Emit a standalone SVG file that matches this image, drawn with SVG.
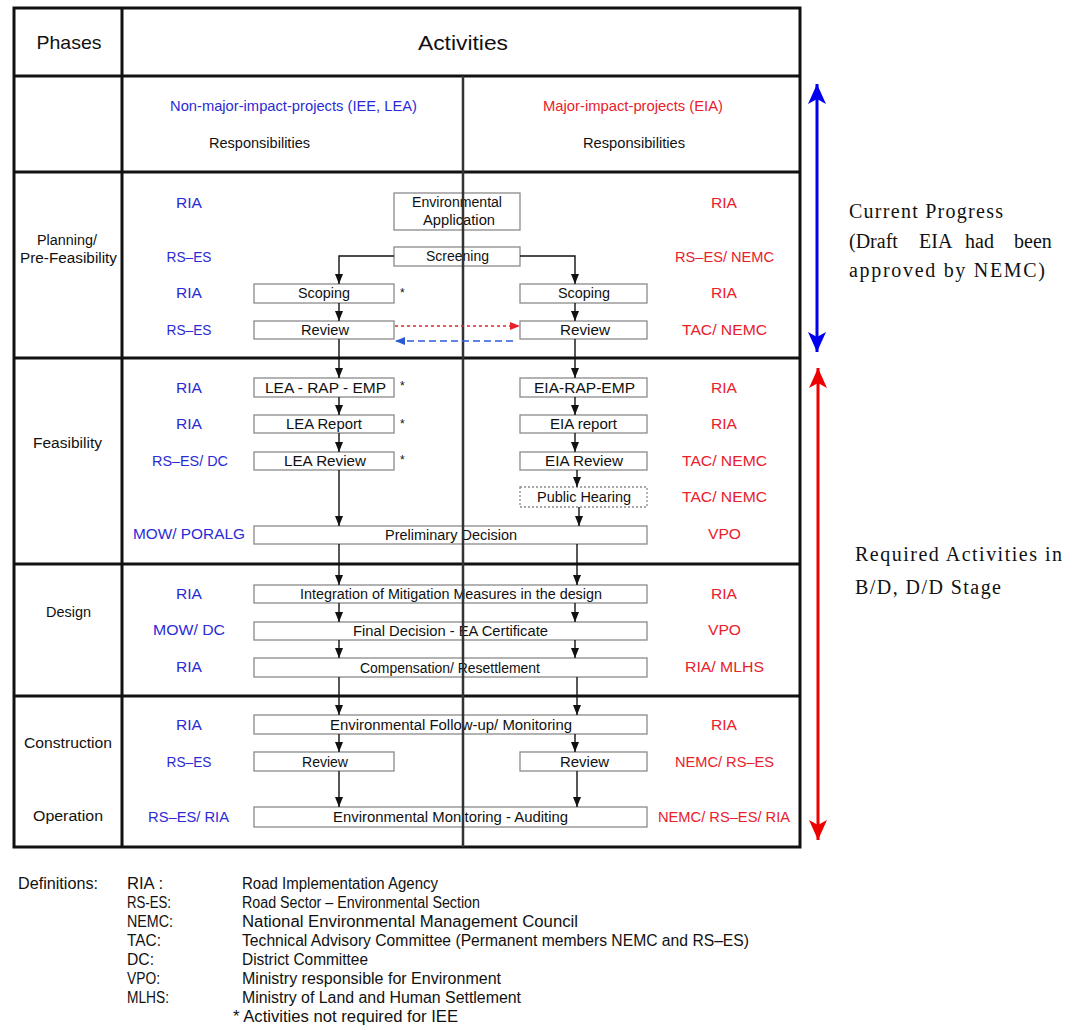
<svg xmlns="http://www.w3.org/2000/svg" width="1073" height="1030" viewBox="0 0 1073 1030">
<style>
.tbl{stroke:#111;stroke-width:3;fill:none}
.div{stroke:#333;stroke-width:2.5;fill:none}
.box{fill:none;stroke:#8a8a8a;stroke-width:1.3}
.dot{stroke-dasharray:2,2}
.t{font-family:"Liberation Sans",Arial,sans-serif;font-size:15.5px;fill:#111;text-anchor:middle}
.l{text-anchor:start}
.d{font-size:16px}
.b{fill:#2b2bd4}
.r{fill:#e8212b}
.s{font-family:"Liberation Serif","Times New Roman",serif;font-size:20px;fill:#111}
.conn{stroke:#111;stroke-width:1.4;fill:none;marker-end:url(#ah)}
</style>
<defs>
<marker id="ah" markerUnits="userSpaceOnUse" markerWidth="10" markerHeight="8" refX="10" refY="4" orient="auto"><path d="M0,0 L10,4 L0,8 z" fill="#111"/></marker>
<marker id="ahr" markerUnits="userSpaceOnUse" markerWidth="10" markerHeight="8" refX="10" refY="4" orient="auto"><path d="M0,0 L10,4 L0,8 z" fill="#e8212b"/></marker>
<marker id="ahb" markerUnits="userSpaceOnUse" markerWidth="10" markerHeight="8" refX="10" refY="4" orient="auto"><path d="M0,0 L10,4 L0,8 z" fill="#2b5bd4"/></marker>
<marker id="bigB" markerUnits="userSpaceOnUse" markerWidth="20" markerHeight="18" refX="20" refY="9" orient="auto-start-reverse"><path d="M0,0 L20,9 L0,18 L5,9 z" fill="#0000ee"/></marker>
<marker id="bigR" markerUnits="userSpaceOnUse" markerWidth="20" markerHeight="18" refX="20" refY="9" orient="auto-start-reverse"><path d="M0,0 L20,9 L0,18 L5,9 z" fill="#ee0000"/></marker>
</defs>

<g id="table">
<rect class="tbl" x="14" y="8" width="786" height="839"/>
<line class="tbl" x1="14" y1="76" x2="800" y2="76"/>
<line class="tbl" x1="14" y1="172" x2="800" y2="172"/>
<line class="tbl" x1="14" y1="358" x2="800" y2="358"/>
<line class="tbl" x1="14" y1="564" x2="800" y2="564"/>
<line class="tbl" x1="14" y1="696" x2="800" y2="696"/>
<line class="tbl" x1="122" y1="8" x2="122" y2="847"/>
<text class="t" x="69" y="49" style="font-size:19px" textLength="65" lengthAdjust="spacingAndGlyphs">Phases</text>
<text class="t" x="463" y="50" style="font-size:20px" textLength="90" lengthAdjust="spacingAndGlyphs">Activities</text>
<text class="t b" x="293.5" y="111" style="font-size:15px" textLength="247" lengthAdjust="spacingAndGlyphs">Non-major-impact-projects (IEE, LEA)</text>
<text class="t r" x="633" y="111" style="font-size:15px" textLength="180" lengthAdjust="spacingAndGlyphs">Major-impact-projects (EIA)</text>
<text class="t" x="259.5" y="148" style="font-size:14.5px" textLength="101" lengthAdjust="spacingAndGlyphs">Responsibilities</text>
<text class="t" x="634" y="148" style="font-size:14.5px" textLength="102" lengthAdjust="spacingAndGlyphs">Responsibilities</text>
</g>

<g id="phases">
<text class="t" x="67" y="245" textLength="60" lengthAdjust="spacingAndGlyphs">Planning/</text>
<text class="t" x="68.5" y="263" textLength="97" lengthAdjust="spacingAndGlyphs">Pre-Feasibility</text>
<text class="t" x="67.5" y="448" textLength="69" lengthAdjust="spacingAndGlyphs">Feasibility</text>
<text class="t" x="68.5" y="617" textLength="45" lengthAdjust="spacingAndGlyphs">Design</text>
<text class="t" x="68" y="748" textLength="88" lengthAdjust="spacingAndGlyphs">Construction</text>
<text class="t" x="68" y="821" textLength="70" lengthAdjust="spacingAndGlyphs">Operation</text>
</g>

<g id="resp-left">
<text class="t b" x="189" y="208" textLength="26" lengthAdjust="spacingAndGlyphs">RIA</text>
<text class="t b" x="189" y="262" textLength="45" lengthAdjust="spacingAndGlyphs">RS–ES</text>
<text class="t b" x="189" y="298" textLength="26" lengthAdjust="spacingAndGlyphs">RIA</text>
<text class="t b" x="189" y="335" textLength="45" lengthAdjust="spacingAndGlyphs">RS–ES</text>
<text class="t b" x="189" y="393" textLength="26" lengthAdjust="spacingAndGlyphs">RIA</text>
<text class="t b" x="189" y="429" textLength="26" lengthAdjust="spacingAndGlyphs">RIA</text>
<text class="t b" x="190" y="466" textLength="76" lengthAdjust="spacingAndGlyphs">RS–ES/ DC</text>
<text class="t b" x="189" y="539" textLength="112" lengthAdjust="spacingAndGlyphs">MOW/ PORALG</text>
<text class="t b" x="189" y="599" textLength="26" lengthAdjust="spacingAndGlyphs">RIA</text>
<text class="t b" x="189" y="635" textLength="72" lengthAdjust="spacingAndGlyphs">MOW/ DC</text>
<text class="t b" x="189" y="672" textLength="26" lengthAdjust="spacingAndGlyphs">RIA</text>
<text class="t b" x="189" y="730" textLength="26" lengthAdjust="spacingAndGlyphs">RIA</text>
<text class="t b" x="189" y="767" textLength="45" lengthAdjust="spacingAndGlyphs">RS–ES</text>
<text class="t b" x="188.5" y="822" textLength="81" lengthAdjust="spacingAndGlyphs">RS–ES/ RIA</text>
</g>

<g id="resp-right">
<text class="t r" x="724" y="208" textLength="26" lengthAdjust="spacingAndGlyphs">RIA</text>
<text class="t r" x="724.5" y="262" textLength="99" lengthAdjust="spacingAndGlyphs">RS–ES/ NEMC</text>
<text class="t r" x="724" y="298" textLength="26" lengthAdjust="spacingAndGlyphs">RIA</text>
<text class="t r" x="724.5" y="335" textLength="85" lengthAdjust="spacingAndGlyphs">TAC/ NEMC</text>
<text class="t r" x="724" y="393" textLength="26" lengthAdjust="spacingAndGlyphs">RIA</text>
<text class="t r" x="724" y="429" textLength="26" lengthAdjust="spacingAndGlyphs">RIA</text>
<text class="t r" x="724.5" y="466" textLength="85" lengthAdjust="spacingAndGlyphs">TAC/ NEMC</text>
<text class="t r" x="724.5" y="502" textLength="85" lengthAdjust="spacingAndGlyphs">TAC/ NEMC</text>
<text class="t r" x="724.5" y="539" textLength="33" lengthAdjust="spacingAndGlyphs">VPO</text>
<text class="t r" x="724" y="599" textLength="26" lengthAdjust="spacingAndGlyphs">RIA</text>
<text class="t r" x="724.5" y="635" textLength="33" lengthAdjust="spacingAndGlyphs">VPO</text>
<text class="t r" x="724.5" y="672" textLength="79" lengthAdjust="spacingAndGlyphs">RIA/ MLHS</text>
<text class="t r" x="724" y="730" textLength="26" lengthAdjust="spacingAndGlyphs">RIA</text>
<text class="t r" x="724.5" y="767" textLength="99" lengthAdjust="spacingAndGlyphs">NEMC/ RS–ES</text>
<text class="t r" x="724" y="822" textLength="132" lengthAdjust="spacingAndGlyphs">NEMC/ RS–ES/ RIA</text>
</g>

<g id="n-envapp"><rect class="box" x="394" y="193" width="126" height="37"/>
<text class="t" x="457" y="207" textLength="90" lengthAdjust="spacingAndGlyphs">Environmental</text>
<text class="t" x="459" y="225" textLength="72" lengthAdjust="spacingAndGlyphs">Application</text></g>
<g id="n-screening"><rect class="box" x="394" y="247" width="126" height="19"/>
<text class="t" x="457.5" y="261" textLength="63" lengthAdjust="spacingAndGlyphs">Screening</text></g>
<g id="n-scoping-l"><rect class="box" x="254" y="284" width="140" height="19"/>
<text class="t" x="324" y="298" textLength="52" lengthAdjust="spacingAndGlyphs">Scoping</text></g>
<g id="n-scoping-r"><rect class="box" x="520" y="284" width="127" height="19"/>
<text class="t" x="584" y="298" textLength="52" lengthAdjust="spacingAndGlyphs">Scoping</text></g>
<g id="n-review-l"><rect class="box" x="254" y="321" width="140" height="18"/>
<text class="t" x="325" y="335" textLength="48" lengthAdjust="spacingAndGlyphs">Review</text></g>
<g id="n-review-r"><rect class="box" x="520" y="321" width="127" height="18"/>
<text class="t" x="585" y="335" textLength="50" lengthAdjust="spacingAndGlyphs">Review</text></g>
<g id="n-lea-rap"><rect class="box" x="254" y="378" width="140" height="19"/>
<text class="t" x="325.5" y="393" textLength="121" lengthAdjust="spacingAndGlyphs">LEA - RAP - EMP</text></g>
<g id="n-lea-report"><rect class="box" x="254" y="415" width="140" height="18"/>
<text class="t" x="324" y="429" textLength="76" lengthAdjust="spacingAndGlyphs">LEA Report</text></g>
<g id="n-lea-review"><rect class="box" x="254" y="452" width="140" height="18"/>
<text class="t" x="325" y="466" textLength="82" lengthAdjust="spacingAndGlyphs">LEA Review</text></g>
<g id="n-eia-rap"><rect class="box" x="520" y="378" width="127" height="19"/>
<text class="t" x="584.5" y="393" textLength="101" lengthAdjust="spacingAndGlyphs">EIA-RAP-EMP</text></g>
<g id="n-eia-report"><rect class="box" x="520" y="415" width="127" height="18"/>
<text class="t" x="583.5" y="429" textLength="67" lengthAdjust="spacingAndGlyphs">EIA report</text></g>
<g id="n-eia-review"><rect class="box" x="520" y="452" width="127" height="18"/>
<text class="t" x="584" y="466" textLength="78" lengthAdjust="spacingAndGlyphs">EIA Review</text></g>
<g id="n-public-hearing"><rect class="box dot" x="520" y="487" width="127" height="20"/>
<text class="t" x="584" y="502" textLength="94" lengthAdjust="spacingAndGlyphs">Public Hearing</text></g>
<g id="n-prelim"><rect class="box" x="254" y="526" width="393" height="18"/>
<text class="t" x="451" y="540" textLength="132" lengthAdjust="spacingAndGlyphs">Preliminary Decision</text></g>
<g id="n-integration"><rect class="box" x="254" y="585" width="393" height="18"/>
<text class="t" x="451" y="599" textLength="302" lengthAdjust="spacingAndGlyphs">Integration of Mitigation Measures in the design</text></g>
<g id="n-final"><rect class="box" x="254" y="622" width="393" height="18"/>
<text class="t" x="450.5" y="636" textLength="195" lengthAdjust="spacingAndGlyphs">Final Decision - EA Certificate</text></g>
<g id="n-compensation"><rect class="box" x="254" y="658" width="393" height="19"/>
<text class="t" x="450" y="673" textLength="180" lengthAdjust="spacingAndGlyphs">Compensation/ Resettlement</text></g>
<g id="n-followup"><rect class="box" x="254" y="715" width="393" height="19"/>
<text class="t" x="451" y="730" textLength="242" lengthAdjust="spacingAndGlyphs">Environmental Follow-up/ Monitoring</text></g>
<g id="n-review2-l"><rect class="box" x="254" y="752" width="140" height="19"/>
<text class="t" x="325" y="767" textLength="46" lengthAdjust="spacingAndGlyphs">Review</text></g>
<g id="n-review2-r"><rect class="box" x="520" y="752" width="127" height="19"/>
<text class="t" x="584.5" y="767" textLength="49" lengthAdjust="spacingAndGlyphs">Review</text></g>
<g id="n-monitoring"><rect class="box" x="254" y="807" width="393" height="20"/>
<text class="t" x="450.5" y="822" textLength="235" lengthAdjust="spacingAndGlyphs">Environmental Monitoring - Auditing</text></g>

<g id="asterisks">
<text class="t l" x="400" y="297" style="font-size:12px">*</text>
<text class="t l" x="400" y="390" style="font-size:12px">*</text>
<text class="t l" x="400" y="428" style="font-size:12px">*</text>
<text class="t l" x="400" y="464" style="font-size:12px">*</text>
</g>

<g id="divider">
<line class="div" x1="463" y1="76" x2="463" y2="847"/>
</g>

<g id="connectors">
<path class="conn" d="M394,256 H339 V284"/>
<path class="conn" d="M339,303 V321"/>
<path class="conn" d="M339,339 V378"/>
<path class="conn" d="M339,397 V415"/>
<path class="conn" d="M339,433 V452"/>
<path class="conn" d="M339,470 V526"/>
<path class="conn" d="M339,544 V585"/>
<path class="conn" d="M339,603 V622"/>
<path class="conn" d="M339,640 V658"/>
<path class="conn" d="M339,677 V715"/>
<path class="conn" d="M339,734 V752"/>
<path class="conn" d="M339,771 V807"/>
<path class="conn" d="M520,256 H575 V284"/>
<path class="conn" d="M575,303 V321"/>
<path class="conn" d="M575,339 V378"/>
<path class="conn" d="M575,397 V415"/>
<path class="conn" d="M575,433 V452"/>
<path class="conn" d="M577,470 V487"/>
<path class="conn" d="M579,507 V526"/>
<path class="conn" d="M577,544 V585"/>
<path class="conn" d="M575,603 V622"/>
<path class="conn" d="M575,640 V658"/>
<path class="conn" d="M577,677 V715"/>
<path class="conn" d="M575,734 V752"/>
<path class="conn" d="M577,771 V807"/>
<path d="M395,326 H520" fill="none" stroke="#e8212b" stroke-width="1.3" stroke-dasharray="3,3" marker-end="url(#ahr)"/>
<path d="M513,341 H395" fill="none" stroke="#2b5bd4" stroke-width="1.3" stroke-dasharray="7,4" marker-end="url(#ahb)"/>
</g>

<g id="progress">
<line x1="817" y1="84" x2="817" y2="352" stroke="#0000ee" stroke-width="3" marker-start="url(#bigB)" marker-end="url(#bigB)"/>
<text class="s" x="849" y="218" textLength="154">Current Progress</text>
<text class="s" y="248"><tspan x="849">(Draft</tspan><tspan x="919">EIA</tspan><tspan x="965">had</tspan><tspan x="1014">been</tspan></text>
<text class="s" x="849" y="277" textLength="196">approved by NEMC)</text>
</g>

<g id="required">
<line x1="818" y1="368" x2="818" y2="840" stroke="#ee0000" stroke-width="3" marker-start="url(#bigR)" marker-end="url(#bigR)"/>
<text class="s" x="855" y="561" textLength="207">Required Activities in</text>
<text class="s" x="855" y="594" textLength="146">B/D, D/D Stage</text>
</g>

<g id="definitions">
<text class="t l d" x="18" y="889" textLength="80" lengthAdjust="spacingAndGlyphs">Definitions:</text>
<text class="t l d" x="127" y="889" textLength="36" lengthAdjust="spacingAndGlyphs">RIA :</text>
<text class="t l d" x="127" y="908" textLength="44" lengthAdjust="spacingAndGlyphs">RS-ES:</text>
<text class="t l d" x="127" y="927" textLength="46" lengthAdjust="spacingAndGlyphs">NEMC:</text>
<text class="t l d" x="127" y="946" textLength="34" lengthAdjust="spacingAndGlyphs">TAC:</text>
<text class="t l d" x="127" y="965" textLength="27" lengthAdjust="spacingAndGlyphs">DC:</text>
<text class="t l d" x="127" y="984" textLength="33" lengthAdjust="spacingAndGlyphs">VPO:</text>
<text class="t l d" x="127" y="1003" textLength="42" lengthAdjust="spacingAndGlyphs">MLHS:</text>
<text class="t l d" x="242" y="889" textLength="196" lengthAdjust="spacingAndGlyphs">Road Implementation Agency</text>
<text class="t l d" x="242" y="908" textLength="238" lengthAdjust="spacingAndGlyphs">Road Sector – Environmental Section</text>
<text class="t l d" x="242" y="927" textLength="336" lengthAdjust="spacingAndGlyphs">National Environmental Management Council</text>
<text class="t l d" x="242" y="946" textLength="507" lengthAdjust="spacingAndGlyphs">Technical Advisory Committee (Permanent members NEMC and RS–ES)</text>
<text class="t l d" x="242" y="965" textLength="126" lengthAdjust="spacingAndGlyphs">District Committee</text>
<text class="t l d" x="242" y="984" textLength="259" lengthAdjust="spacingAndGlyphs">Ministry responsible for Environment</text>
<text class="t l d" x="242" y="1003" textLength="279" lengthAdjust="spacingAndGlyphs">Ministry of Land and Human Settlement</text>
<text class="t l d" x="233" y="1022" textLength="225" lengthAdjust="spacingAndGlyphs">* Activities not required for IEE</text>
</g>
</svg>
